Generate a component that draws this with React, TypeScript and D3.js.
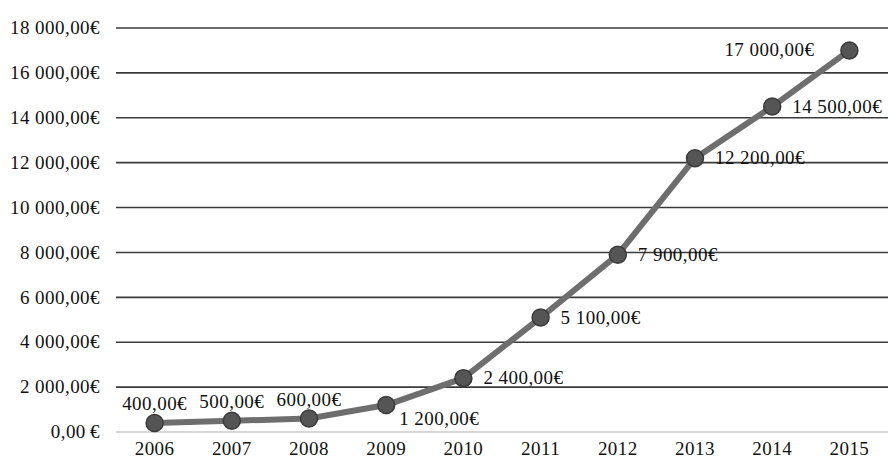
import React from "react";
import * as d3 from "d3";

const years = ["2006", "2007", "2008", "2009", "2010", "2011", "2012", "2013", "2014", "2015"];
const values = [400, 500, 600, 1200, 2400, 5100, 7900, 12200, 14500, 17000];
const yTicks = [0, 2000, 4000, 6000, 8000, 10000, 12000, 14000, 16000, 18000];
// label placement: "above" | "right" | "rightBelow" | "left"
const labelPos = ["above", "above", "above", "rightBelow", "right", "right", "right", "right", "right", "left"];

const W = 888;
const H = 459;

function fmt(v: number): string {
  const s = v.toFixed(2).replace(".", ",");
  const [i, d] = s.split(",");
  const withSpaces = i.replace(/\B(?=(\d{3})+(?!\d))/g, " ");
  return `${withSpaces},${d}€`;
}

export default function App() {
  const x = d3.scalePoint<string>().domain(years).range([116, 888]).padding(0.5);
  const y = d3.scaleLinear().domain([0, 18000]).range([432, 28]);
  const line = d3
    .line<number>()
    .x((_, i) => x(years[i]) as number)
    .y((d) => y(d));
  const font = "'Liberation Serif', 'Times New Roman', serif";
  const fs = 19;
  const ls = 0.45;

  return (
    <svg
      width={W}
      height={H}
      style={{ position: "absolute", left: 0, top: 0, background: "#fff" }}
      fontFamily={font}
    >
      {yTicks.map((t) => (
        <g key={t}>
          <line
            x1={116}
            x2={888}
            y1={y(t)}
            y2={y(t)}
            stroke={t === 0 ? "#c8c8c8" : "#3a3a3a"}
            strokeWidth={t === 0 ? 1.5 : 1.6}
          />
          <text
            x={100}
            y={y(t)}
            dy="0.33em"
            textAnchor="end"
            fontSize={fs}
            letterSpacing={ls}
            fill="#111"
          >
            {t === 0 ? "0,00\u2009€" : fmt(t)}
          </text>
        </g>
      ))}
      {years.map((yr) => (
        <text
          key={yr}
          x={x(yr)}
          y={455}
          textAnchor="middle"
          fontSize={fs}
          letterSpacing={ls}
          fill="#111"
        >
          {yr}
        </text>
      ))}
      <path d={line(values) || ""} fill="none" stroke="#6e6e6e" strokeWidth={6} strokeLinejoin="round" />
      {values.map((v, i) => (
        <circle
          key={i}
          cx={x(years[i])}
          cy={y(v)}
          r={8.5}
          fill="#555"
          stroke="#3a3a3a"
          strokeWidth={1.5}
        />
      ))}
      {values.map((v, i) => {
        const cx = x(years[i]) as number;
        const cy = y(v);
        const p = labelPos[i];
        let tx = cx;
        let ty = cy;
        let anchor: "start" | "middle" | "end" = "middle";
        if (p === "above") {
          ty = cy - 13;
        } else if (p === "right") {
          tx = cx + 20;
          ty = cy + 6;
          anchor = "start";
        } else if (p === "rightBelow") {
          tx = cx + 13;
          ty = cy + 20;
          anchor = "start";
        } else {
          tx = cx - 35;
          ty = cy + 6;
          anchor = "end";
        }
        return (
          <text
            key={"l" + i}
            x={tx}
            y={ty}
            textAnchor={anchor}
            fontSize={fs}
            letterSpacing={ls}
            fill="#111"
          >
            {fmt(v)}
          </text>
        );
      })}
    </svg>
  );
}
